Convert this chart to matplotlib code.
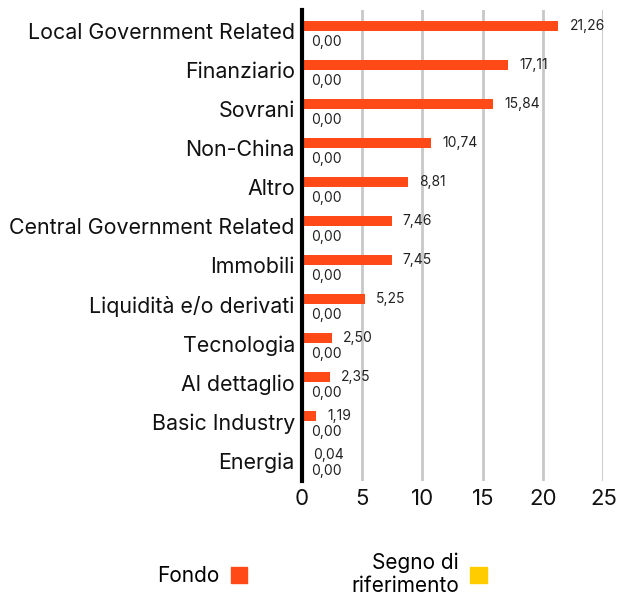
import numpy as np
import matplotlib.pyplot as plt
from matplotlib.patches import Patch

plt.rcParams['font.family'] = ['Inter', 'DejaVu Sans']

categories = ['Local Government Related', 'Finanziario', 'Sovrani', 'Non-China', 'Altro',
              'Central Government Related', 'Immobili', 'Liquidità e/o derivati', 'Tecnologia',
              'Al dettaglio', 'Basic Industry', 'Energia']
fondo = [21.26, 17.11, 15.84, 10.74, 8.81, 7.46, 7.45, 5.25, 2.50, 2.35, 1.19, 0.04]
riferimento = [0.00] * 12
xticks = [0, 5, 10, 15, 20, 25]

orange = '#ff4a17'
yellow = '#ffcc00'


def fmt(v):
    return f'{v:.2f}'.replace('.', ',')


def main():
    fig = plt.figure(figsize=(6.17, 5.98), dpi=100)
    ax = fig.add_axes([0.489, 0.1957, 0.489, 0.7876])

    y = np.arange(len(categories))
    h = 0.265
    ax.barh(y - h / 2, fondo, height=h, color=orange, zorder=3)
    ax.barh(y + h / 2, riferimento, height=h, color=yellow, zorder=3)

    for i in range(len(categories)):
        ax.annotate(fmt(fondo[i]), (fondo[i], y[i] - h / 2), xytext=(8, 0), textcoords='offset points',
                    va='center', ha='left', fontsize=10, color='#222222')
        ax.annotate(fmt(riferimento[i]), (riferimento[i], y[i] + h / 2), xytext=(7, -4), textcoords='offset points',
                    va='center', ha='left', fontsize=10, color='#222222')

    ax.set_xlim(0, 25)
    ax.set_ylim(11.53, -0.55)
    ax.set_yticks(y)
    ax.set_yticklabels(categories, fontsize=15.4)
    ax.set_xticks(xticks)
    ax.set_xticklabels([str(t) for t in xticks], fontsize=16)
    ax.tick_params(axis='both', length=0, colors='#111111')
    ax.tick_params(axis='y', pad=5)
    ax.tick_params(axis='x', pad=6)

    ax.grid(axis='x', color='#c8c8c8', linewidth=2, zorder=0)
    for s in ['top', 'right', 'bottom']:
        ax.spines[s].set_visible(False)
    ax.spines['left'].set_linewidth(3)
    ax.spines['left'].set_color('black')
    ax.spines['left'].set_zorder(4)

    handles = [Patch(color=orange), Patch(color=yellow)]
    leg = fig.legend(handles, ['Fondo', 'Segno di\nriferimento'], loc='center', bbox_to_anchor=(0.522, 0.04),
                     ncol=2, frameon=False, markerfirst=False, fontsize=15, handlelength=0.8, handleheight=0.8,
                     columnspacing=4.98, handletextpad=0.55)
    leg.get_texts()[1].set_multialignment('right')

    fig.savefig('out.png', dpi=100)


if __name__ == '__main__':
    main()
